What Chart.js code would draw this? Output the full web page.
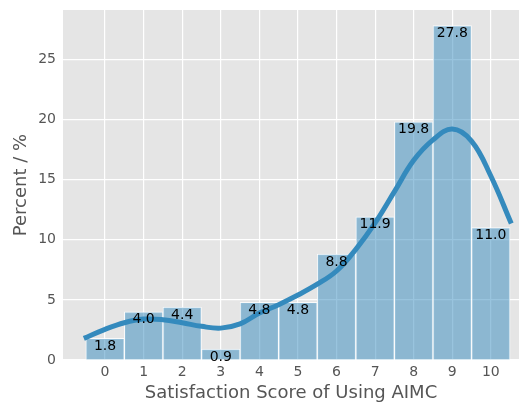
<!DOCTYPE html>
<html>
<head>
<meta charset="utf-8">
<script src="https://cdn.jsdelivr.net/npm/chart.js@4"></script>
<style>
  body { margin: 0; background: #fff; }
</style>
</head>
<body>
<canvas id="myChart" width="520" height="404"></canvas>
<script>
// histogram bins (scores 0..10) and percent per bin
const scores = [0, 1, 2, 3, 4, 5, 6, 7, 8, 9, 10];
const percents = [1.8, 4.0, 4.4, 0.9, 4.8, 4.8, 8.8, 11.9, 19.8, 27.8, 11.0];

// kde curve
const kdeX = [-0.55, 0, 0.5, 1, 1.5, 2, 2.5, 3, 3.5, 4, 4.5, 5, 5.5, 6, 6.5, 7, 7.5, 8, 8.5, 9, 9.5, 10, 10.53];
const kdeY = [1.8, 2.55, 3.1, 3.4, 3.35, 3.1, 2.8, 2.65, 3.0, 3.9, 4.6, 5.4, 6.3, 7.4, 9.2, 11.4, 14.0, 16.6, 18.3, 19.2, 18.2, 15.3, 11.35];

// tick labels
const xTicks = [0, 1, 2, 3, 4, 5, 6, 7, 8, 9, 10];
const yTicks = [0, 5, 10, 15, 20, 25];

const blue = '#348ABD';
const fontFamily = '"DejaVu Sans", sans-serif';

// gray panel behind the plot
const panelBg = {
  id: 'panelBg',
  beforeDraw(chart) {
    const a = chart.chartArea;
    const c = chart.ctx;
    c.save();
    c.fillStyle = '#E5E5E5';
    c.fillRect(a.left, a.top, a.right - a.left, a.bottom - a.top);
    c.restore();
  }
};

// value labels at the top of each bar
const barLabels = {
  id: 'barLabels',
  afterDraw(chart) {
    const c = chart.ctx;
    const xs = chart.scales.x, ys = chart.scales.y;
    c.save();
    c.font = '14px ' + fontFamily;
    c.fillStyle = '#000';
    c.textAlign = 'center';
    c.textBaseline = 'alphabetic';
    scores.forEach((s, i) => {
      const px = xs.getPixelForValue(s);
      const py = ys.getPixelForValue(percents[i]);
      c.fillText(percents[i].toFixed(1), px, py + 11.5);
    });
    c.restore();
  }
};

const ctx = document.getElementById('myChart').getContext('2d');

new Chart(ctx, {
  type: 'bar',
  data: {
    datasets: [{
      type: 'line',
      data: kdeX.map((x, i) => ({ x: x, y: kdeY[i] })),
      borderColor: blue,
      borderWidth: 5,
      pointRadius: 0,
      tension: 0.4,
      fill: false,
      order: 0
    }, {
      type: 'bar',
      data: scores.map((s, i) => ({ x: s, y: percents[i] })),
      backgroundColor: 'rgba(52, 138, 189, 0.5)',
      borderColor: 'rgba(255, 255, 255, 0.8)',
      borderWidth: 1,
      barPercentage: 1,
      categoryPercentage: 1,
      order: 1
    }]
  },
  options: {
    responsive: false,
    animation: false,
    layout: { padding: { top: 10, right: 1, left: 0, bottom: 0 } },
    plugins: {
      legend: { display: false },
      tooltip: { enabled: false }
    },
    scales: {
      x: {
        type: 'linear',
        min: -1.09,
        max: 10.73,
        offset: false,
        afterBuildTicks: s => { s.ticks = xTicks.map(v => ({ value: v })); },
        afterFit: s => { s.height = 44; s.paddingLeft = 0; s.paddingRight = 0; },
        grid: { color: '#fff', lineWidth: 1.2, drawTicks: false, offset: false },
        border: { display: false },
        ticks: { color: '#555', font: { family: fontFamily, size: 14 }, padding: 4, maxRotation: 0 },
        title: {
          display: true,
          text: 'Satisfaction Score of Using AIMC',
          color: '#555',
          font: { family: fontFamily, size: 18 },
          padding: { top: 0, bottom: 0 }
        }
      },
      y: {
        min: 0,
        max: 29.1,
        afterBuildTicks: s => { s.ticks = yTicks.map(v => ({ value: v })); },
        afterFit: s => { s.width = 63; s.paddingTop = 0; s.paddingBottom = 0; },
        grid: { color: '#fff', lineWidth: 1.2, drawTicks: false },
        border: { display: false },
        ticks: { color: '#555', font: { family: fontFamily, size: 14 }, padding: 7 },
        title: {
          display: true,
          text: 'Percent / %',
          color: '#555',
          font: { family: fontFamily, size: 18 },
          padding: { top: 11, bottom: 0 }
        }
      }
    }
  },
  plugins: [panelBg, barLabels]
});
</script>
</body>
</html>
